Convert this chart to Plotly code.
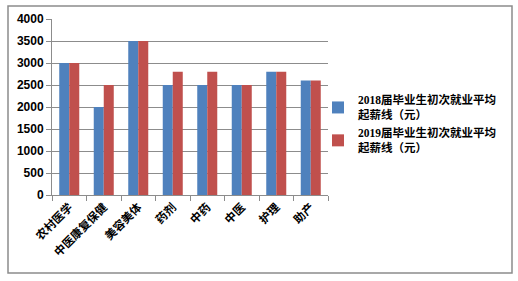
import plotly.graph_objects as go

categories = ["农村医学", "中医康复保健", "美容美体", "药剂", "中药", "中医", "护理", "助产"]
s2018 = [3000, 2000, 3500, 2500, 2500, 2500, 2800, 2600]
s2019 = [3000, 2500, 3500, 2800, 2800, 2500, 2800, 2600]
name2018 = "2018届毕业生初次就业平均<br>起薪线（元）"
name2019 = "2019届毕业生初次就业平均<br>起薪线（元）"

fig = go.Figure()
fig.add_bar(x=categories, y=s2018, name=name2018, marker_color="#4F81BD", marker_line_width=0)
fig.add_bar(x=categories, y=s2019, name=name2019, marker_color="#C0504D", marker_line_width=0)

L, R, T, B = 52, 328, 19, 195
W, H = 518, 281
pw, ph = R - L, B - T

def px(x):
    return (x - L) / pw

def py(y):
    return (B - y) / ph

fig.update_layout(
    width=W, height=H,
    margin=dict(l=L, r=W - R, t=T, b=H - B, pad=0, autoexpand=False),
    paper_bgcolor="white", plot_bgcolor="white",
    barmode="group", bargap=0.42, bargroupgap=0,
    font=dict(family="Liberation Sans, Noto Sans CJK SC", size=11, color="black"),
    legend=dict(x=px(318), y=py(86), xanchor="left", yanchor="top",
                font=dict(family="Liberation Serif, Noto Sans CJK SC", size=11.5, weight="bold"),
                tracegroupgap=0, itemwidth=30, bgcolor="rgba(0,0,0,0)"),
    showlegend=True,
    shapes=[dict(type="rect", xref="paper", yref="paper",
                 x0=px(8), x1=px(512), y0=py(273), y1=py(6),
                 line=dict(color="#8c8c8c", width=1.5), layer="below")],
)
fig.update_yaxes(range=[0, 4000], dtick=500, showgrid=True, gridcolor="#8c8c8c", gridwidth=1,
                 showline=True, linecolor="#8c8c8c", ticks="outside", ticklen=5, tickcolor="#8c8c8c",
                 tickfont=dict(family="Liberation Sans", size=12, weight="bold"), zeroline=False)
fig.update_xaxes(showline=True, linecolor="#8c8c8c", ticks="outside", ticklen=5, tickcolor="#8c8c8c",
                 tickson="boundaries", tickangle=-45,
                 tickfont=dict(family="Noto Sans CJK SC", size=11.5, weight="bold"))

fig.write_html("out.html")
